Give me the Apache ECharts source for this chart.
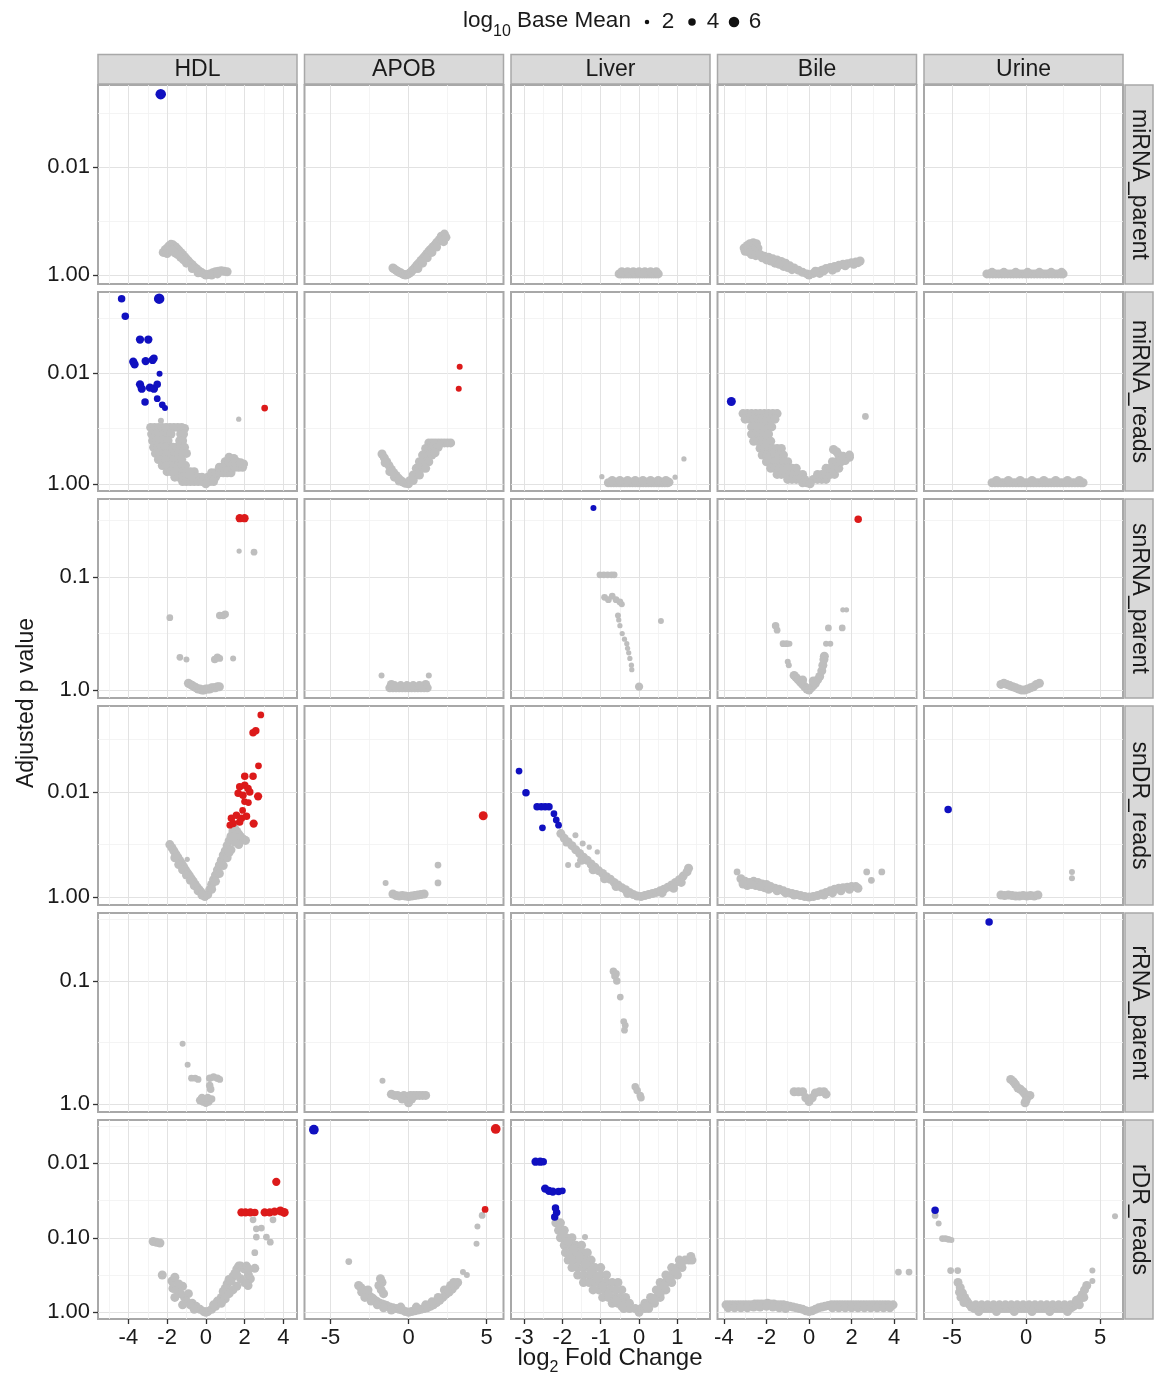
<!DOCTYPE html>
<html>
<head>
<meta charset="utf-8">
<script src="https://cdn.jsdelivr.net/npm/echarts@6.0.0/dist/echarts.min.js"></script>
<style>
  html, body { margin: 0; padding: 0; background: #fff; }
  #chart { width: 1154px; height: 1378px; }
</style>
</head>
<body>
<div id="chart"></div>
<script>
// facets
const columnNames = ['HDL', 'APOB', 'Liver', 'Bile', 'Urine'];
const rowNames = ['miRNA_parent', 'miRNA_reads', 'snRNA_parent', 'snDR_reads', 'rRNA_parent', 'rDR_reads'];

// x scale per column (log2 fold change), y scale per row (-log10 adjusted p)
const xLimits = [[-5.57, 4.71], [-6.67, 6.09], [-3.34, 1.85], [-4.3, 5.05], [-6.9, 6.55]];
const xBreaks = [[-4, -2, 0, 2, 4], [-5, 0, 5], [-3, -2, -1, 0, 1], [-4, -2, 0, 2, 4], [-5, 0, 5]];
const xMinorBreaks = [[-5, -3, -1, 1, 3], [-2.5, 2.5], [-2.5, -1.5, -0.5, 0.5, 1.5], [-3, -1, 1, 3, 5], [-2.5, 2.5]];
const yLimits = [[-0.167, 3.53], [-0.13, 3.47], [-0.07, 1.69], [-0.15, 3.64], [-0.065, 1.553], [-0.09, 2.58]];
const yBreaks = [[0, 2], [0, 2], [0, 1], [0, 2], [0, 1], [0, 1, 2]];
const yBreakLabels = [['1.00', '0.01'], ['1.00', '0.01'], ['1.0', '0.1'], ['1.00', '0.01'], ['1.0', '0.1'], ['1.00', '0.10', '0.01']];
const yMinorBreaks = [[1, 3], [1, 3], [0.5, 1.5], [1, 3], [0.5, 1.5], [0.5, 1.5, 2.5]];
const legendBaseMean = [2, 4, 6];

// significant genes: [log2FC, -log10 padj, log10 baseMean]  (one list per column)
const sigMirnaParent = [
  [[-2.33, 3.36, 6]], [], [], [], []
];
const sigMirnaReads = [
  [[-4.35, 3.35, 4], [-4.16, 3.03, 4], [-2.41, 3.35, 6], [-3.4, 2.61, 4.5], [-2.97, 2.61, 4.5],
   [-3.75, 2.21, 4.5], [-3.68, 2.16, 4.5], [-3.11, 2.22, 4.5], [-2.75, 2.24, 4.5], [-2.68, 2.27, 4],
   [-2.39, 1.99, 3], [-3.4, 1.8, 4.5], [-3.31, 1.72, 4.5], [-2.89, 1.74, 4.5], [-2.68, 1.72, 4.5],
   [-2.51, 1.8, 4], [-3.14, 1.48, 4], [-2.51, 1.54, 3.5], [-2.25, 1.43, 3.5], [-2.11, 1.37, 3],
   [3.04, 1.37, 3.5]],
  [[3.28, 2.12, 3], [3.22, 1.72, 3]],
  [],
  [[-3.65, 1.49, 5]],
  []
];
const sigSnrnaParent = [
  [[1.75, 1.52, 4.5], [2.0, 1.52, 4.5]], [], [[-1.19, 1.61, 3]], [[2.31, 1.51, 4]], []
];
const sigSndrReads = [
  [[2.84, 3.47, 3.5], [2.44, 3.13, 4], [2.58, 3.17, 4], [2.72, 2.5, 3.5], [2.01, 2.3, 4], [2.44, 2.3, 4],
   [1.75, 2.1, 4], [2.01, 2.13, 4], [2.18, 2.07, 4], [1.67, 1.98, 4], [1.92, 1.94, 4], [2.27, 2.0, 4],
   [2.7, 1.92, 4.5], [2.0, 1.82, 3.5], [1.32, 1.5, 4], [1.58, 1.56, 4], [1.84, 1.5, 4], [2.1, 1.54, 4],
   [1.41, 1.4, 4], [1.75, 1.43, 4], [1.24, 1.37, 3.5], [2.47, 1.4, 4.5], [1.9, 1.65, 3.5], [2.2, 1.8, 3.5]],
  [[4.79, 1.55, 5]],
  [[-3.13, 2.4, 3.5], [-2.95, 1.99, 4], [-2.66, 1.72, 4], [-2.55, 1.72, 4], [-2.45, 1.72, 4], [-2.35, 1.72, 4],
   [-2.22, 1.59, 3.5], [-2.16, 1.47, 3.5], [-2.1, 1.37, 3.5], [-2.52, 1.32, 3.5]],
  [],
  [[-5.27, 1.67, 4]]
];
const sigRrnaParent = [
  [], [], [], [], [[-2.5, 1.48, 4]]
];
const sigRdrReads = [
  [[3.64, 1.75, 4.5], [1.84, 1.34, 4.5], [2.05, 1.34, 4.5], [2.3, 1.34, 4.5], [2.53, 1.34, 4], [3.04, 1.34, 4.5],
   [3.3, 1.34, 4.5], [3.55, 1.35, 4.5], [3.85, 1.36, 5], [4.05, 1.34, 5]],
  [[-6.07, 2.45, 5.5], [5.59, 2.46, 5.5], [4.91, 1.38, 3.5]],
  [[-2.7, 2.02, 4.5], [-2.58, 2.02, 4.5], [-2.5, 2.02, 4], [-2.45, 1.66, 4.5], [-2.35, 1.63, 4.5], [-2.25, 1.62, 4.5],
   [-2.1, 1.62, 4], [-2.0, 1.63, 3.5], [-2.18, 1.4, 4], [-2.15, 1.34, 4], [-2.2, 1.28, 4]],
  [],
  [[-6.15, 1.37, 4]]
];

// non-significant genes: [log2FC, -log10 padj, (log10 baseMean)]
const grayMirnaParent = [
  [[-2.2, 0.42], [-2.1, 0.47], [-2.0, 0.5], [-1.9, 0.54], [-1.8, 0.57], [-1.7, 0.56], [-1.6, 0.53], [-1.5, 0.5],
   [-1.4, 0.46], [-1.3, 0.42], [-1.2, 0.38], [-1.1, 0.34], [-1.0, 0.3], [-0.9, 0.26], [-0.8, 0.22], [-0.7, 0.19],
   [-0.6, 0.15], [-0.5, 0.12], [-0.4, 0.09], [-0.3, 0.06], [-0.2, 0.04], [-0.1, 0.02], [0, 0], [0.1, 0.01],
   [0.2, 0.02], [0.35, 0.04], [0.5, 0.06], [0.65, 0.07], [0.8, 0.08], [0.95, 0.07], [1.1, 0.06], [-1.9, 0.44],
   [-1.6, 0.41], [-1.3, 0.33], [-1.0, 0.22], [-0.7, 0.12], [-0.4, 0.04], [0.3, 0.0], [0.6, 0.02], [-2.0, 0.4],
   [-1.75, 0.46], [-1.45, 0.38], [-1.15, 0.28]],
  [[-1.0, 0.13], [-0.9, 0.11], [-0.8, 0.09], [-0.7, 0.07], [-0.6, 0.05], [-0.5, 0.04], [-0.4, 0.02], [-0.3, 0.01],
   [-0.2, 0], [-0.1, 0.01], [0, 0.02], [0.1, 0.04], [0.2, 0.07], [0.3, 0.1], [0.4, 0.13], [0.5, 0.17], [0.6, 0.2],
   [0.7, 0.23], [0.8, 0.27], [0.9, 0.3], [1.0, 0.33], [1.1, 0.37], [1.2, 0.4], [1.3, 0.44], [1.4, 0.47], [1.5, 0.5],
   [1.6, 0.53], [1.7, 0.56], [1.8, 0.6], [1.9, 0.63], [2.0, 0.66], [2.1, 0.72], [2.2, 0.68], [2.25, 0.62],
   [2.3, 0.76], [2.4, 0.7], [1.2, 0.32], [0.9, 0.22], [0.6, 0.12], [1.5, 0.42], [1.8, 0.52]],
  [[-0.52, 0.02], [-0.46, 0.02], [-0.4, 0.02], [-0.34, 0.02], [-0.28, 0.02], [-0.22, 0.02], [-0.16, 0.02],
   [-0.1, 0.02], [-0.04, 0.02], [0.02, 0.02], [0.08, 0.02], [0.14, 0.02], [0.2, 0.02], [0.26, 0.02], [0.32, 0.02],
   [0.38, 0.02], [0.44, 0.02], [0.5, 0.02], [-0.45, 0.06], [-0.3, 0.06], [-0.15, 0.06], [0, 0.06], [0.15, 0.06],
   [0.3, 0.06], [0.45, 0.06]],
  [[-3.05, 0.5], [-3.0, 0.44], [-2.9, 0.55], [-2.78, 0.58], [-2.62, 0.6], [-2.47, 0.58], [-2.4, 0.5], [-2.6, 0.46],
   [-2.8, 0.42], [-2.7, 0.38], [-2.5, 0.36], [-2.3, 0.38], [-2.1, 0.35], [-1.9, 0.33], [-1.7, 0.3], [-1.5, 0.28],
   [-1.3, 0.25], [-1.1, 0.22], [-0.9, 0.17], [-0.7, 0.13], [-0.5, 0.09], [-0.3, 0.05], [-0.1, 0.02], [0, 0],
   [0.2, 0.03], [0.4, 0.06], [0.6, 0.09], [0.8, 0.12], [1.0, 0.14], [1.2, 0.16], [1.4, 0.18], [1.6, 0.2],
   [1.8, 0.21], [2.0, 0.23], [2.2, 0.24], [2.4, 0.26], [-2.0, 0.28], [-1.6, 0.22], [-1.2, 0.16], [-0.8, 0.1],
   [0.5, 0.03], [1.1, 0.09], [-2.2, 0.32], [-1.8, 0.26], [-1.4, 0.2], [-1.0, 0.14], [0.3, 0.07], [0.7, 0.08],
   [1.3, 0.13], [1.7, 0.17], [2.1, 0.2], [2.3, 0.23]],
  [[-2.65, 0.02], [-2.45, 0.02], [-2.25, 0.02], [-2.05, 0.02], [-1.85, 0.02], [-1.65, 0.02], [-1.45, 0.02],
   [-1.25, 0.02], [-1.05, 0.02], [-0.85, 0.02], [-0.65, 0.02], [-0.45, 0.02], [-0.25, 0.02], [-0.05, 0.02],
   [0.15, 0.02], [0.35, 0.02], [0.55, 0.02], [0.75, 0.02], [0.95, 0.02], [1.15, 0.02], [1.35, 0.02], [1.55, 0.02],
   [1.75, 0.02], [1.95, 0.02], [2.15, 0.02], [2.35, 0.02], [2.5, 0.02], [-2.3, 0.05], [-1.5, 0.05], [-0.7, 0.05],
   [0.1, 0.05], [0.9, 0.05], [1.7, 0.05], [2.4, 0.05]]
];
const grayMirnaReads = [
  [[-2.85, 1.02], [-2.65, 1.02], [-2.45, 1.02], [-2.25, 1.02], [-2.05, 1.02], [-1.85, 1.02], [-1.65, 1.02],
   [-1.45, 1.02], [-1.25, 1.02], [-1.1, 1.0], [-2.8, 0.9], [-2.6, 0.9], [-2.4, 0.9], [-2.2, 0.9], [-2.0, 0.9],
   [-1.8, 0.9], [-1.3, 0.9], [-1.15, 0.9], [-2.75, 0.78], [-2.55, 0.78], [-2.35, 0.78], [-2.15, 0.78],
   [-1.95, 0.78], [-1.35, 0.78], [-1.2, 0.78], [-2.7, 0.66], [-2.5, 0.66], [-2.3, 0.66], [-2.1, 0.66],
   [-1.9, 0.66], [-1.7, 0.66], [-1.5, 0.66], [-1.3, 0.66], [-1.1, 0.66], [-2.6, 0.55], [-2.4, 0.55],
   [-2.2, 0.55], [-2.0, 0.55], [-1.8, 0.55], [-1.6, 0.55], [-1.4, 0.55], [-1.2, 0.55], [-1.0, 0.55],
   [-2.45, 0.44], [-2.25, 0.44], [-2.05, 0.44], [-1.85, 0.44], [-1.65, 0.44], [-1.45, 0.44], [-1.25, 0.44],
   [-2.25, 0.33], [-2.05, 0.33], [-1.85, 0.33], [-1.65, 0.33], [-1.45, 0.33], [-1.25, 0.33], [-1.05, 0.33],
   [-2.0, 0.22], [-1.8, 0.22], [-1.6, 0.22], [-1.4, 0.22], [-1.2, 0.22], [-1.0, 0.22], [-0.8, 0.22],
   [-0.6, 0.22], [-1.6, 0.12], [-1.4, 0.12], [-1.2, 0.12], [-1.0, 0.12], [-0.8, 0.12], [-0.6, 0.12],
   [-0.4, 0.12], [-0.2, 0.12], [0.1, 0.12], [0.3, 0.12], [0.5, 0.12], [-1.2, 0.04], [-1.0, 0.04], [-0.8, 0.04],
   [-0.6, 0.04], [-0.4, 0.04], [-0.2, 0.04], [0, 0.0], [0.2, 0.04], [0.4, 0.04], [0.3, 0.2], [0.5, 0.2],
   [0.7, 0.2], [0.9, 0.2], [1.1, 0.2], [1.3, 0.2], [0.7, 0.3], [0.9, 0.3], [1.1, 0.3], [1.3, 0.3], [1.5, 0.3],
   [1.7, 0.3], [1.9, 0.3], [1.0, 0.4], [1.2, 0.4], [1.4, 0.4], [1.6, 0.4], [1.8, 0.38], [1.95, 0.36],
   [1.2, 0.48], [1.45, 0.46], [-2.32, 1.14, 3], [1.7, 1.17, 2.5]],
  [[-1.7, 0.54], [-1.55, 0.47], [-1.4, 0.4], [-1.25, 0.33], [-1.1, 0.26], [-0.95, 0.2], [-0.8, 0.15],
   [-0.65, 0.1], [-0.5, 0.06], [-0.35, 0.03], [-0.2, 0.01], [0, 0], [-1.2, 0.22], [-0.9, 0.12], [-0.6, 0.05],
   [-1.5, 0.38], [1.3, 0.74], [1.5, 0.74], [1.7, 0.74], [1.9, 0.74], [2.1, 0.74], [2.3, 0.74], [2.5, 0.74],
   [2.7, 0.74], [1.1, 0.64], [1.3, 0.64], [1.5, 0.64], [1.7, 0.64], [1.9, 0.66], [0.9, 0.52], [1.1, 0.52],
   [1.3, 0.52], [1.5, 0.52], [1.7, 0.56], [0.7, 0.4], [0.9, 0.4], [1.1, 0.4], [1.3, 0.4], [0.5, 0.28],
   [0.7, 0.28], [0.9, 0.28], [1.1, 0.28], [0.3, 0.16], [0.5, 0.16], [0.7, 0.16], [0.1, 0.06], [0.3, 0.06]],
  [[-0.8, 0.02], [-0.73, 0.02], [-0.66, 0.02], [-0.59, 0.02], [-0.52, 0.02], [-0.45, 0.02], [-0.38, 0.02],
   [-0.31, 0.02], [-0.24, 0.02], [-0.17, 0.02], [-0.1, 0.02], [-0.03, 0.02], [0.04, 0.02], [0.11, 0.02],
   [0.18, 0.02], [0.25, 0.02], [0.32, 0.02], [0.39, 0.02], [0.46, 0.02], [0.53, 0.02], [0.6, 0.02], [0.67, 0.02],
   [0.74, 0.02], [0.78, 0.03], [-0.7, 0.06], [-0.5, 0.06], [-0.3, 0.06], [-0.1, 0.06], [0.1, 0.06], [0.3, 0.06],
   [0.5, 0.06], [0.7, 0.06], [-0.97, 0.13, 2.5], [0.94, 0.12, 2.5], [1.17, 0.45, 2.5]],
  [[-3.1, 1.27], [-2.9, 1.27], [-2.7, 1.27], [-2.5, 1.27], [-2.3, 1.27], [-2.1, 1.27], [-1.9, 1.27], [-1.7, 1.27],
   [-1.5, 1.27], [-3.0, 1.17], [-2.8, 1.17], [-2.6, 1.17], [-2.4, 1.17], [-2.2, 1.17], [-2.0, 1.17], [-1.8, 1.17],
   [-1.6, 1.17], [-2.7, 1.03], [-2.5, 1.03], [-2.3, 1.03], [-2.1, 1.03], [-1.9, 1.03], [-1.75, 1.03],
   [-2.7, 0.9], [-2.5, 0.9], [-2.3, 0.9], [-2.1, 0.9], [-1.9, 0.9], [-2.6, 0.77], [-2.4, 0.77], [-2.2, 0.77],
   [-2.0, 0.77], [-1.8, 0.77], [-2.3, 0.64], [-2.1, 0.64], [-1.9, 0.64], [-1.7, 0.64], [-1.5, 0.64],
   [-1.3, 0.64], [-2.2, 0.52], [-2.0, 0.52], [-1.8, 0.52], [-1.6, 0.52], [-1.4, 0.52], [-1.2, 0.52],
   [-2.0, 0.4], [-1.8, 0.4], [-1.6, 0.4], [-1.4, 0.4], [-1.2, 0.4], [-1.0, 0.4], [-1.8, 0.28], [-1.6, 0.28],
   [-1.4, 0.28], [-1.2, 0.28], [-1.0, 0.28], [-0.8, 0.28], [-0.6, 0.28], [-1.5, 0.17], [-1.3, 0.17],
   [-1.1, 0.17], [-0.9, 0.17], [-0.7, 0.17], [-0.5, 0.17], [-0.3, 0.17], [-1.0, 0.08], [-0.8, 0.08],
   [-0.6, 0.08], [-0.4, 0.08], [-0.2, 0.08], [0.2, 0.08], [0.4, 0.08], [0.6, 0.08], [0.8, 0.08], [-0.3, 0.02],
   [-0.1, 0.02], [0.05, 0.0], [0.4, 0.17], [0.6, 0.17], [0.8, 0.17], [1.0, 0.17], [1.2, 0.17], [0.8, 0.28],
   [1.0, 0.28], [1.2, 0.28], [1.4, 0.28], [1.1, 0.4], [1.3, 0.4], [1.5, 0.4], [1.7, 0.42], [1.9, 0.48],
   [1.4, 0.52], [1.6, 0.5], [1.9, 0.52], [1.15, 0.62], [1.3, 0.58], [2.65, 1.22, 3.5]],
  [[-2.3, 0.02], [-2.1, 0.02], [-1.9, 0.02], [-1.7, 0.02], [-1.5, 0.02], [-1.3, 0.02], [-1.1, 0.02], [-0.9, 0.02],
   [-0.7, 0.02], [-0.5, 0.02], [-0.3, 0.02], [-0.1, 0.02], [0.1, 0.02], [0.3, 0.02], [0.5, 0.02], [0.7, 0.02],
   [0.9, 0.02], [1.1, 0.02], [1.3, 0.02], [1.5, 0.02], [1.7, 0.02], [1.9, 0.02], [2.1, 0.02], [2.3, 0.02],
   [2.5, 0.02], [2.7, 0.02], [2.9, 0.02], [3.1, 0.02], [3.3, 0.02], [3.5, 0.02], [3.7, 0.02], [3.85, 0.02],
   [-2.0, 0.06], [-1.2, 0.06], [-0.4, 0.06], [0.4, 0.06], [1.2, 0.06], [2.0, 0.06], [2.8, 0.06], [3.6, 0.06]]
];
const graySnrnaParent = [
  [[1.72, 1.23, 2.5], [2.49, 1.22, 3.5], [-1.86, 0.64, 3.5], [0.72, 0.66, 4], [0.9, 0.66, 4], [1.0, 0.67, 4],
   [-1.34, 0.29, 3.5], [-1.0, 0.27, 3], [0.46, 0.27, 4], [0.6, 0.29, 4], [0.72, 0.28, 3.5], [1.41, 0.28, 3],
   [-0.9, 0.06], [-0.8, 0.05], [-0.7, 0.04], [-0.6, 0.03], [-0.5, 0.02], [-0.4, 0.01], [-0.3, 0.01], [-0.2, 0],
   [-0.1, 0], [0, 0.01], [0.1, 0.01], [0.2, 0.01], [0.3, 0.02], [0.4, 0.02], [0.5, 0.02], [0.6, 0.03], [0.7, 0.03]],
  [[-1.73, 0.13, 3], [1.3, 0.13, 3], [-1.2, 0.02], [-1.0, 0.02], [-0.8, 0.02], [-0.6, 0.02], [-0.4, 0.02],
   [-0.2, 0.02], [0, 0.02], [0.2, 0.02], [0.4, 0.02], [0.6, 0.02], [0.8, 0.02], [1.0, 0.02], [1.2, 0.02],
   [-1.1, 0.05], [1.1, 0.05], [-0.9, 0.04], [-0.5, 0.04], [-0.1, 0.04], [0.3, 0.04], [0.7, 0.04]],
  [[-1.02, 1.02, 3.5], [-0.92, 1.02, 3.5], [-0.82, 1.02, 3.5], [-0.72, 1.02, 3.5], [-0.65, 1.02, 3.5],
   [-0.9, 0.82, 3.5], [-0.8, 0.8, 3.5], [-0.7, 0.83, 3.5], [-0.6, 0.8, 3.5], [-0.5, 0.78, 3.5], [-0.45, 0.76, 3],
   [-0.55, 0.66, 3], [-0.53, 0.62, 2.5], [-0.5, 0.57, 2.5], [-0.44, 0.5, 2.5], [-0.38, 0.45, 2.5],
   [-0.32, 0.41, 2.5], [-0.3, 0.37, 2.5], [-0.27, 0.33, 2.5], [-0.24, 0.28, 2.5], [-0.2, 0.22, 2.5],
   [-0.19, 0.18, 2.5], [0, 0.03, 4.5], [0.57, 0.61, 3]],
  [[-1.57, 0.57, 4], [-1.5, 0.53, 3.5], [-1.22, 0.41, 3.5], [-1.05, 0.41, 3.5], [-0.92, 0.41, 3], [-1.0, 0.25, 3],
   [-0.95, 0.22, 3], [-0.7, 0.13], [-0.6, 0.11], [-0.5, 0.09], [-0.4, 0.07], [-0.3, 0.05], [-0.2, 0.03],
   [-0.1, 0.01], [0, 0], [0.1, 0.02], [0.2, 0.04], [0.3, 0.06], [0.4, 0.09], [0.5, 0.12], [0.6, 0.17], [0.65, 0.22],
   [0.7, 0.27], [0.72, 0.3], [0.8, 0.41, 3], [1.0, 0.41, 3], [0.91, 0.55, 3.5], [1.56, 0.55, 3.5],
   [1.59, 0.71, 2.5], [1.76, 0.71, 2.5], [0.2, 0.08], [-0.3, 0.09]],
  [[-1.7, 0.05], [-1.5, 0.06], [-1.3, 0.05], [-1.1, 0.04], [-0.9, 0.03], [-0.7, 0.02], [-0.5, 0.01], [-0.3, 0.0],
   [-0.1, 0.0], [0.1, 0.01], [0.3, 0.02], [0.5, 0.03], [0.7, 0.05], [0.9, 0.06]]
];
const graySndrReads = [
  [[-1.86, 1.0], [-1.75, 0.94], [-1.65, 0.88], [-1.55, 0.82], [-1.45, 0.76], [-1.35, 0.7], [-1.25, 0.64],
   [-1.15, 0.58], [-1.05, 0.52], [-0.95, 0.46], [-0.85, 0.41], [-0.75, 0.35], [-0.65, 0.3], [-0.55, 0.24],
   [-0.45, 0.19], [-0.35, 0.14], [-0.25, 0.1], [-0.15, 0.05], [-0.05, 0.01], [-1.6, 0.75], [-1.4, 0.62],
   [-1.2, 0.52], [-1.0, 0.42], [-0.8, 0.32], [-0.6, 0.22], [-0.4, 0.12], [-0.2, 0.04], [-0.96, 0.72, 2.5],
   [0.1, 0.05], [0.2, 0.14], [0.3, 0.24], [0.4, 0.33], [0.5, 0.42], [0.6, 0.52], [0.7, 0.61], [0.8, 0.7],
   [0.9, 0.8], [1.0, 0.88], [1.1, 0.98], [1.2, 1.07], [1.3, 1.16], [1.4, 1.26], [1.5, 1.3], [1.6, 1.25],
   [1.7, 1.2], [1.8, 1.15], [1.95, 1.1], [2.05, 1.08], [0.5, 0.3], [0.7, 0.45], [0.9, 0.6], [1.1, 0.75],
   [1.3, 0.9], [1.5, 1.05], [1.7, 1.0], [0.3, 0.15], [1.2, 0.85], [1.45, 1.15]],
  [[-1.47, 0.27, 3], [-1.0, 0.06], [-0.8, 0.03], [-0.6, 0.02], [-0.4, 0.03], [-0.2, 0.02], [0, 0.01], [0.2, 0.02],
   [0.4, 0.03], [0.6, 0.04], [0.8, 0.05], [1.0, 0.06], [1.89, 0.27, 3.5], [1.89, 0.61, 3.5]],
  [[-2.04, 1.21], [-1.95, 1.12], [-1.85, 1.05], [-1.75, 0.98], [-1.65, 0.9], [-1.55, 0.83], [-1.45, 0.76],
   [-1.35, 0.7], [-1.25, 0.63], [-1.15, 0.57], [-1.05, 0.5], [-0.95, 0.45], [-0.85, 0.39], [-0.75, 0.34],
   [-0.65, 0.28], [-0.55, 0.23], [-0.45, 0.18], [-0.35, 0.14], [-0.25, 0.09], [-0.15, 0.05], [-0.05, 0.02],
   [-1.66, 1.18, 3], [-1.91, 1.02, 3], [-1.47, 1.02, 3], [-1.09, 0.86, 2.5], [-1.85, 0.61, 3], [-1.6, 0.61, 3],
   [-1.28, 0.61, 3], [-1.3, 0.95, 2.5], [-1.5, 0.7], [-1.2, 0.52], [-0.9, 0.35], [-0.6, 0.2], [-0.3, 0.07],
   [0.05, 0.01], [0.15, 0.03], [0.25, 0.05], [0.35, 0.07], [0.45, 0.09], [0.55, 0.12], [0.65, 0.15],
   [0.75, 0.19], [0.85, 0.23], [0.95, 0.28], [1.05, 0.33], [1.15, 0.4], [1.25, 0.48], [1.29, 0.55], [0.6, 0.08],
   [0.9, 0.17], [1.1, 0.28]],
  [[-3.38, 0.48, 3.5], [-3.2, 0.35], [-3.0, 0.3], [-2.8, 0.28], [-2.6, 0.3], [-2.4, 0.28], [-2.2, 0.25],
   [-2.0, 0.24], [-1.8, 0.2], [-1.6, 0.17], [-1.4, 0.15], [-1.2, 0.12], [-1.0, 0.09], [-0.8, 0.07], [-0.6, 0.05],
   [-0.4, 0.03], [-0.2, 0.01], [0, 0], [0.2, 0.01], [0.4, 0.03], [0.6, 0.06], [0.8, 0.09], [1.0, 0.12],
   [1.2, 0.15], [1.4, 0.17], [1.6, 0.18], [1.8, 0.19], [2.0, 0.2], [2.2, 0.2], [2.71, 0.48, 3.5], [2.93, 0.32, 3.5],
   [3.42, 0.48, 3.5], [-2.9, 0.22], [-2.5, 0.22], [-2.1, 0.18], [-3.1, 0.25], [-2.7, 0.24], [-2.3, 0.2],
   [-1.9, 0.15], [-1.5, 0.12], [-1.1, 0.08], [-0.7, 0.04], [0.7, 0.04], [1.1, 0.08], [1.5, 0.12], [1.9, 0.15],
   [2.3, 0.17]],
  [[-1.7, 0.04], [-1.45, 0.03], [-1.2, 0.04], [-0.95, 0.03], [-0.7, 0.02], [-0.45, 0.02], [-0.2, 0.03],
   [0.05, 0.02], [0.3, 0.03], [0.55, 0.02], [0.8, 0.04], [3.1, 0.48, 3], [3.1, 0.36, 3]]
];
const grayRrnaParent = [
  [[-1.2, 0.49, 3], [-0.94, 0.32, 3], [-0.74, 0.21, 3.5], [-0.55, 0.21, 3.5], [-0.4, 0.2, 3.5], [0.2, 0.21, 4],
   [0.4, 0.22, 4], [0.6, 0.21, 4], [0.72, 0.2, 3.5], [0.2, 0.15, 4], [0.25, 0.12, 4], [-0.3, 0.03, 4.5],
   [-0.15, 0.02, 4.5], [0, 0.01, 4.5], [0.15, 0.02, 4.5], [0.3, 0.04, 4], [-0.2, 0.05, 4.5], [0.1, 0.05, 4.5]],
  [[-1.67, 0.19, 3], [-1.1, 0.08], [-0.9, 0.07], [-0.7, 0.07], [-0.5, 0.06], [-0.3, 0.07], [-0.1, 0.06], [0, 0.01],
   [0.1, 0.07], [0.3, 0.07], [0.5, 0.07], [0.7, 0.07], [0.9, 0.07], [1.1, 0.07], [-0.4, 0.04], [0.2, 0.04]],
  [[-0.67, 1.08, 4], [-0.63, 1.04, 4], [-0.58, 1.0, 4], [-0.6, 1.06, 4], [-0.49, 0.87, 3.5], [-0.4, 0.67, 3.5],
   [-0.36, 0.64, 3.5], [-0.38, 0.6, 3.5], [-0.1, 0.14, 4], [-0.05, 0.11, 4], [0.03, 0.07, 4], [0.05, 0.05, 4]],
  [[-0.7, 0.1], [-0.5, 0.1], [-0.3, 0.1], [-0.15, 0.05], [0, 0.02], [0.15, 0.05], [0.3, 0.09], [0.5, 0.1],
   [0.7, 0.1], [0.8, 0.08]],
  [[-1.04, 0.2], [-0.85, 0.18], [-0.72, 0.16], [-0.55, 0.13], [-0.39, 0.12], [-0.2, 0.1], [-0.07, 0.08],
   [0.1, 0.06], [0.26, 0.07], [-0.07, 0.01], [0.0, 0.03]]
];
const grayRdrReads = [
  [[-2.72, 0.95], [-2.55, 0.94], [-2.37, 0.93], [-2.25, 0.5], [-1.75, 0.42], [-1.6, 0.47], [-1.7, 0.32],
   [-1.5, 0.3], [-1.3, 0.25], [-1.1, 0.2], [-0.9, 0.25], [-0.7, 0.12], [-0.5, 0.08], [-0.3, 0.04], [-0.1, 0.01],
   [0, 0], [0.1, 0.01], [0.3, 0.04], [0.5, 0.08], [0.7, 0.14], [0.8, 0.2], [0.9, 0.28], [1.0, 0.32], [1.1, 0.38],
   [1.2, 0.44], [1.3, 0.42], [1.4, 0.48], [1.5, 0.52], [1.6, 0.58], [1.7, 0.62], [1.8, 0.62], [1.9, 0.6],
   [2.0, 0.58], [2.1, 0.62], [2.2, 0.5], [2.3, 0.45], [2.18, 0.36], [2.53, 0.59], [2.0, 0.4], [1.8, 0.45],
   [1.6, 0.35], [1.4, 0.3], [1.2, 0.25], [1.0, 0.18], [2.53, 0.8, 3.5], [2.61, 1.01, 3.5], [2.61, 1.12, 3.5],
   [2.87, 1.13, 3.5], [3.13, 1.01, 3.5], [3.33, 0.94, 3.5], [2.44, 1.24, 3.5], [3.47, 1.24, 3.5], [-1.2, 0.35],
   [-1.4, 0.38], [-1.0, 0.15], [-0.8, 0.1], [0.6, 0.15], [0.8, 0.12], [-1.6, 0.2], [-1.2, 0.1], [-0.6, 0.04],
   [0.4, 0.1], [1.6, 0.5], [2.2, 0.58]],
  [[-3.83, 0.68, 3.5], [-3.2, 0.36], [-3.05, 0.33], [-2.9, 0.3], [-2.75, 0.27], [-2.6, 0.24], [-2.45, 0.21],
   [-2.3, 0.19], [-2.15, 0.16], [-2.0, 0.14], [-1.85, 0.12], [-1.7, 0.11], [-1.55, 0.1], [-1.4, 0.09],
   [-1.8, 0.45], [-1.7, 0.4], [-1.9, 0.36], [-1.75, 0.3], [-1.6, 0.25], [-2.6, 0.3], [-3.0, 0.27], [-1.2, 0.07],
   [-1.0, 0.06], [-0.8, 0.05], [-0.6, 0.04], [-0.4, 0.03], [-0.2, 0.01], [0, 0], [0.2, 0.01], [0.4, 0.02],
   [0.6, 0.03], [0.8, 0.04], [1.0, 0.05], [1.2, 0.06], [1.4, 0.08], [1.6, 0.1], [1.8, 0.13], [2.0, 0.16],
   [2.2, 0.2], [2.4, 0.24], [2.6, 0.27], [2.8, 0.31], [3.0, 0.36], [3.15, 0.4], [2.3, 0.3], [2.7, 0.36],
   [2.9, 0.4], [3.49, 0.54, 3], [3.74, 0.5, 3], [4.36, 0.92, 3], [4.42, 1.15, 3], [4.72, 1.3, 3.5], [-0.5, 0.07],
   [0.5, 0.07], [1.5, 0.14], [-2.8, 0.2], [-2.4, 0.15], [-2.0, 0.1], [-1.6, 0.06], [-1.1, 0.03], [1.1, 0.1],
   [1.9, 0.2], [2.5, 0.3]],
  [[-2.17, 1.2], [-2.05, 1.2], [-2.1, 1.1], [-2.0, 1.1], [-1.95, 1.1], [-2.05, 1.0], [-1.9, 1.0], [-1.75, 1.0],
   [-1.41, 1.01, 3], [-1.95, 0.9], [-1.8, 0.9], [-1.65, 0.9], [-1.5, 0.9], [-1.92, 0.8], [-1.78, 0.8],
   [-1.62, 0.8], [-1.48, 0.8], [-1.35, 0.8], [-1.85, 0.7], [-1.7, 0.7], [-1.55, 0.7], [-1.4, 0.7], [-1.25, 0.7],
   [-1.75, 0.6], [-1.6, 0.6], [-1.45, 0.6], [-1.3, 0.6], [-1.15, 0.6], [-1.0, 0.6], [-1.6, 0.5], [-1.45, 0.5],
   [-1.3, 0.5], [-1.15, 0.5], [-1.0, 0.5], [-0.85, 0.5], [-1.45, 0.4], [-1.3, 0.4], [-1.15, 0.4], [-1.0, 0.4],
   [-0.85, 0.4], [-0.7, 0.4], [-0.55, 0.4], [-1.2, 0.3], [-1.05, 0.3], [-0.9, 0.3], [-0.75, 0.3], [-0.6, 0.3],
   [-0.45, 0.3], [-0.95, 0.2], [-0.8, 0.2], [-0.65, 0.2], [-0.5, 0.2], [-0.35, 0.2], [-0.7, 0.12], [-0.55, 0.12],
   [-0.4, 0.12], [-0.25, 0.12], [-0.4, 0.05], [-0.25, 0.05], [-0.1, 0.05], [0, 0], [0.05, 0.05], [0.15, 0.05],
   [0.25, 0.05], [0.15, 0.12], [0.3, 0.12], [0.4, 0.12], [0.3, 0.2], [0.45, 0.2], [0.55, 0.2], [0.45, 0.3],
   [0.6, 0.3], [0.7, 0.3], [0.55, 0.4], [0.7, 0.4], [0.85, 0.4], [0.7, 0.5], [0.85, 0.5], [1.0, 0.5],
   [0.85, 0.6], [1.0, 0.6], [1.12, 0.6], [1.05, 0.7], [1.2, 0.7], [1.3, 0.7], [1.38, 0.7], [1.35, 0.75],
   [-2.0, 1.05], [-1.85, 0.95], [-1.7, 0.85], [-1.55, 0.75], [-1.4, 0.65], [-1.25, 0.55], [-1.1, 0.45],
   [-0.95, 0.35], [-0.8, 0.25], [-0.6, 0.16], [-0.45, 0.08], [0.2, 0.08], [0.4, 0.16], [0.55, 0.25],
   [0.65, 0.35], [0.8, 0.45], [0.95, 0.55], [1.1, 0.65]],
  [[-3.9, 0.1], [-3.75, 0.1], [-3.6, 0.1], [-3.45, 0.1], [-3.3, 0.1], [-3.15, 0.1], [-3.0, 0.1], [-2.85, 0.1],
   [-2.7, 0.1], [-2.55, 0.11], [-2.4, 0.11], [-2.25, 0.11], [-2.1, 0.11], [-1.95, 0.12], [-1.8, 0.11],
   [-1.65, 0.11], [-1.5, 0.1], [-1.35, 0.1], [-1.2, 0.1], [-1.05, 0.09], [-0.9, 0.08], [-0.75, 0.07],
   [-0.6, 0.06], [-0.45, 0.05], [-0.3, 0.04], [-0.15, 0.02], [0, 0.01], [0.15, 0.02], [0.3, 0.04], [0.45, 0.06],
   [0.6, 0.07], [0.75, 0.08], [0.9, 0.09], [1.05, 0.1], [1.2, 0.1], [1.35, 0.1], [1.5, 0.1], [1.65, 0.1],
   [1.8, 0.1], [1.95, 0.1], [2.1, 0.1], [2.25, 0.1], [2.4, 0.1], [2.55, 0.1], [2.7, 0.1], [2.85, 0.1], [3.0, 0.1],
   [3.15, 0.1], [3.3, 0.1], [3.45, 0.1], [3.6, 0.1], [3.75, 0.1], [3.95, 0.1], [-3.8, 0.06], [-3.5, 0.06],
   [-3.2, 0.06], [-2.9, 0.06], [-2.6, 0.07], [-2.3, 0.07], [-2.0, 0.08], [-1.7, 0.07], [-1.4, 0.06],
   [-1.1, 0.05], [1.1, 0.06], [1.4, 0.06], [1.7, 0.06], [2.0, 0.06], [2.3, 0.06], [2.6, 0.06], [2.9, 0.06],
   [3.2, 0.06], [3.5, 0.06], [3.8, 0.06], [4.2, 0.54, 3.5], [4.7, 0.54, 3.5]],
  [[-6.15, 1.3, 3.5], [-5.91, 1.19, 3], [-5.65, 0.99, 3.5], [-5.45, 0.99, 3.5], [-5.25, 0.98, 3.5],
   [-5.05, 0.97, 3], [-5.1, 0.56, 3.5], [-4.62, 0.56, 3.5], [-4.6, 0.4], [-4.45, 0.33], [-4.3, 0.26],
   [-4.15, 0.2], [-4.0, 0.15], [-3.85, 0.11], [-4.4, 0.2], [-4.2, 0.13], [-4.5, 0.27], [-3.7, 0.07],
   [-3.5, 0.05], [-3.3, 0.05], [-3.1, 0.05], [-2.9, 0.05], [-2.7, 0.05], [-2.5, 0.05], [-2.3, 0.05],
   [-2.1, 0.05], [-1.9, 0.05], [-1.7, 0.05], [-1.5, 0.05], [-1.3, 0.05], [-1.1, 0.05], [-0.9, 0.05],
   [-0.7, 0.05], [-0.5, 0.05], [-0.3, 0.05], [-0.1, 0.05], [0.1, 0.05], [0.3, 0.05], [0.5, 0.05], [0.7, 0.05],
   [0.9, 0.05], [1.1, 0.05], [1.3, 0.05], [1.5, 0.05], [1.7, 0.05], [1.9, 0.05], [2.1, 0.05], [2.3, 0.05],
   [2.5, 0.05], [2.7, 0.05], [2.9, 0.05], [3.05, 0.06], [-3.4, 0.1], [-3.0, 0.1], [-2.6, 0.1], [-2.2, 0.1],
   [-1.8, 0.1], [-1.4, 0.1], [-1.0, 0.1], [-0.6, 0.1], [-0.2, 0.1], [0.2, 0.1], [0.6, 0.1], [1.0, 0.1], [1.4, 0.1],
   [1.8, 0.1], [2.2, 0.1], [2.6, 0.1], [3.0, 0.1], [-3.2, 0.01], [-2.0, 0.01], [-0.8, 0.01], [0.4, 0.01],
   [1.6, 0.01], [2.8, 0.01], [3.2, 0.08], [3.35, 0.11], [3.5, 0.14], [3.65, 0.19], [3.8, 0.24], [3.95, 0.3],
   [4.1, 0.36], [3.6, 0.1], [3.9, 0.2], [3.4, 0.16], [4.48, 0.42, 3], [4.48, 0.56, 3], [6.01, 1.29, 3]]
];

const grayRows = [grayMirnaParent, grayMirnaReads, graySnrnaParent, graySndrReads, grayRrnaParent, grayRdrReads];
const sigRows = [sigMirnaParent, sigMirnaReads, sigSnrnaParent, sigSndrReads, sigRrnaParent, sigRdrReads];

// ---- layout / style ----
const FONT = '"Liberation Sans", Arial, Helvetica, sans-serif';
const BLUE = '#1010c0';
const RED = '#dc1a1a';
const GRAY = '#bebebe';
const TEXT = '#1a1a1a';
const BORDER = '#a8a8a8';
const GRAY_BM = 5;
const PANEL_LEFT = [98, 304.5, 511, 717.5, 924];
const PANEL_TOP = [85, 292, 499, 706, 913, 1120];
const PANEL_W = 199;
const PANEL_H = 199;

const pointSize = bm => 1.5 + 1.5 * bm;
const sameValue = (a, b) => Math.abs(a - b) < 1e-9;

const chart = echarts.init(document.getElementById('chart'), null, { renderer: 'canvas' });

const grids = [];
const xAxes = [];
const yAxes = [];
const series = [];

rowNames.forEach((rowName, r) => {
  columnNames.forEach((colName, c) => {
    const g = r * columnNames.length + c;
    const bottomRow = r === rowNames.length - 1;
    const leftCol = c === 0;

    grids.push({
      left: PANEL_LEFT[c], top: PANEL_TOP[r], width: PANEL_W, height: PANEL_H,
      show: true, backgroundColor: '#fff', borderColor: BORDER, borderWidth: 2
    });

    // major x axis
    xAxes.push({
      type: 'value', gridIndex: g, min: xLimits[c][0], max: xLimits[c][1], position: 'bottom',
      axisLine: { show: false, onZero: false },
      axisTick: { show: bottomRow, customValues: xBreaks[c], length: 5, lineStyle: { color: '#333', width: 1.3 } },
      axisLabel: {
        show: bottomRow, customValues: xBreaks[c], margin: 8, fontSize: 22, color: TEXT, fontFamily: FONT,
        formatter: v => String(v)
      },
      splitLine: { show: true, lineStyle: { color: '#e2e2e2', width: 1 } }
    });
    // minor x grid
    xAxes.push({
      type: 'value', gridIndex: g, min: xLimits[c][0], max: xLimits[c][1], position: 'top',
      axisLine: { show: false, onZero: false },
      axisTick: { show: false, customValues: xMinorBreaks[c] },
      axisLabel: { show: false },
      splitLine: { show: true, lineStyle: { color: '#f1f1f1', width: 0.8 } }
    });

    // major y axis
    yAxes.push({
      type: 'value', gridIndex: g, min: yLimits[r][0], max: yLimits[r][1], position: 'left',
      axisLine: { show: false, onZero: false },
      axisTick: { show: leftCol, customValues: yBreaks[r], length: 5, lineStyle: { color: '#333', width: 1.3 } },
      axisLabel: {
        show: leftCol, customValues: yBreaks[r], margin: 8, fontSize: 22, color: TEXT, fontFamily: FONT,
        formatter: v => {
          const i = yBreaks[r].findIndex(b => sameValue(b, v));
          return i >= 0 ? yBreakLabels[r][i] : '';
        }
      },
      splitLine: { show: true, lineStyle: { color: '#e2e2e2', width: 1 } }
    });
    // minor y grid
    yAxes.push({
      type: 'value', gridIndex: g, min: yLimits[r][0], max: yLimits[r][1], position: 'right',
      axisLine: { show: false, onZero: false },
      axisTick: { show: false, customValues: yMinorBreaks[r] },
      axisLabel: { show: false },
      splitLine: { show: true, lineStyle: { color: '#f1f1f1', width: 0.8 } }
    });

    series.push({
      type: 'scatter', name: rowName + ' ' + colName + ' ns',
      xAxisIndex: 2 * g, yAxisIndex: 2 * g,
      data: grayRows[r][c].map(p => [p[0], p[1], p.length > 2 ? p[2] : GRAY_BM]),
      symbolSize: v => pointSize(v[2]),
      itemStyle: { color: GRAY, opacity: 1 },
      silent: true, z: 2
    });
    series.push({
      type: 'scatter', name: rowName + ' ' + colName + ' sig',
      xAxisIndex: 2 * g, yAxisIndex: 2 * g,
      data: sigRows[r][c],
      symbolSize: v => pointSize(v[2]),
      itemStyle: { color: p => (p.value[0] < 0 ? BLUE : RED), opacity: 1 },
      silent: true, z: 3
    });
  });
});

// strips, titles, size legend
const graphic = [];
columnNames.forEach((name, c) => {
  graphic.push({
    type: 'rect', silent: true,
    shape: { x: PANEL_LEFT[c], y: 54.5, width: PANEL_W, height: 29.5 },
    style: { fill: '#d9d9d9', stroke: BORDER, lineWidth: 1.5 }
  });
  graphic.push({
    type: 'text', silent: true, x: PANEL_LEFT[c] + PANEL_W / 2, y: 70,
    style: { text: name, fontSize: 23, fontFamily: FONT, fill: TEXT, align: 'center', verticalAlign: 'middle' }
  });
});
rowNames.forEach((name, r) => {
  graphic.push({
    type: 'rect', silent: true,
    shape: { x: 1125, y: PANEL_TOP[r], width: 28, height: PANEL_H },
    style: { fill: '#d9d9d9', stroke: BORDER, lineWidth: 1.5 }
  });
  graphic.push({
    type: 'text', silent: true, x: 1139.5, y: PANEL_TOP[r] + PANEL_H / 2, rotation: -Math.PI / 2,
    style: { text: name, fontSize: 23, fontFamily: FONT, fill: TEXT, align: 'center', verticalAlign: 'middle' }
  });
});

graphic.push({
  type: 'text', silent: true, x: 27, y: 703, rotation: Math.PI / 2,
  style: { text: 'Adjusted p value', fontSize: 23, fontFamily: FONT, fill: TEXT, align: 'center', verticalAlign: 'middle' }
});

const subRich = size => ({
  n: { fontSize: size, fontFamily: FONT, fill: TEXT, lineHeight: size + 4, verticalAlign: 'top' },
  s: { fontSize: 16, fontFamily: FONT, fill: TEXT, lineHeight: 16, padding: [14, 0, 0, 0], verticalAlign: 'top' }
});
graphic.push({
  type: 'text', silent: true, x: 610, y: 1360,
  style: { text: '{n|log}{s|2}{n| Fold Change}', rich: subRich(24), align: 'center', verticalAlign: 'middle' }
});
graphic.push({
  type: 'text', silent: true, x: 463, y: 23,
  style: { text: '{n|log}{s|10}{n| Base Mean}', rich: subRich(22.5), align: 'left', verticalAlign: 'middle' }
});
const legendDotX = [647, 692, 734];
legendBaseMean.forEach((bm, i) => {
  graphic.push({
    type: 'circle', silent: true,
    shape: { cx: legendDotX[i], cy: 22, r: pointSize(bm) / 2 },
    style: { fill: '#111' }
  });
  graphic.push({
    type: 'text', silent: true, x: legendDotX[i] + 21, y: 22,
    style: { text: String(bm), fontSize: 22.5, fontFamily: FONT, fill: TEXT, align: 'center', verticalAlign: 'middle' }
  });
});

chart.setOption({
  animation: false,
  backgroundColor: '#fff',
  textStyle: { fontFamily: FONT },
  grid: grids,
  xAxis: xAxes,
  yAxis: yAxes,
  series: series,
  graphic: graphic
});
</script>
</body>
</html>
